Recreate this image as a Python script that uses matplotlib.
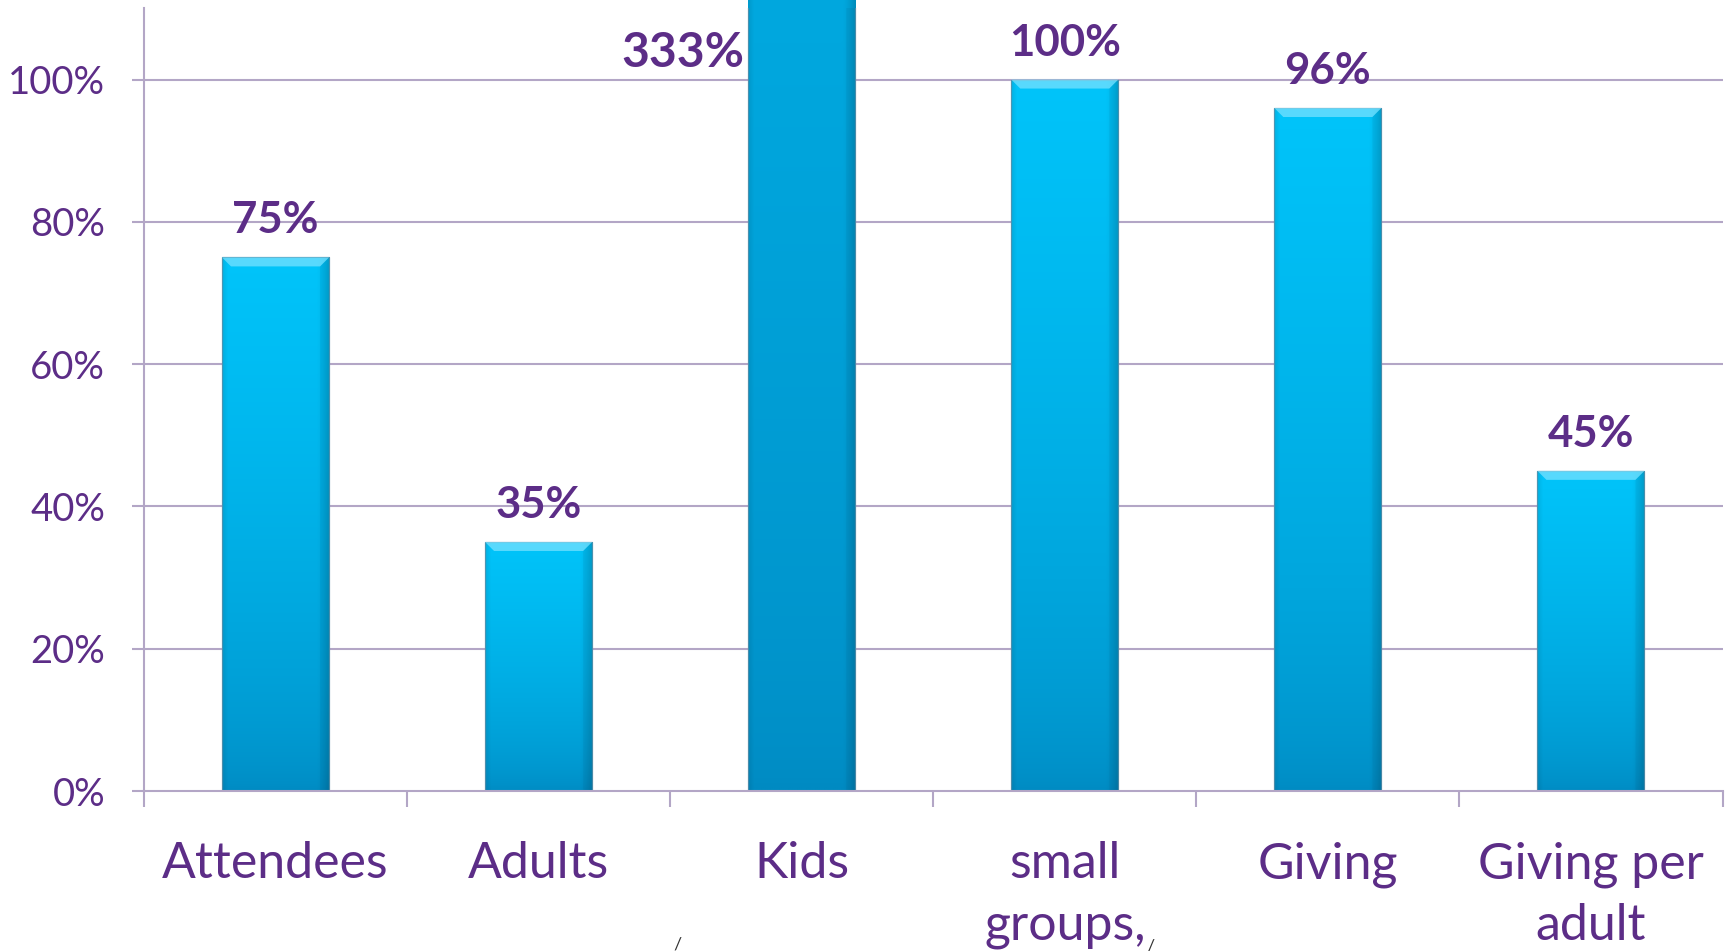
import matplotlib
matplotlib.use("Agg")
import matplotlib.pyplot as plt
import numpy as np
from matplotlib.patches import Rectangle, Polygon
from matplotlib.colors import to_rgb

# ---- data ----
categories = ["Attendees", "Adults", "Kids", "small\ngroups,", "Giving", "Giving per\nadult"]
values = [75, 35, 333, 100, 96, 45]
value_labels = ["75%", "35%", "333%", "100%", "96%", "45%"]
yticks = [0, 20, 40, 60, 80, 100]
ytick_labels = ["0%", "20%", "40%", "60%", "80%", "100%"]

PURPLE = "#5C2D87"
GRID = "#B3A6C6"
C_BOT = np.array(to_rgb("#008AC2"))
C_TOP = np.array(to_rgb("#00C4FA"))

plt.rcParams["font.family"] = ["Lato", "DejaVu Sans"]

W, H = 1729, 951
fig = plt.figure(figsize=(W / 100, H / 100), dpi=100)
ax = fig.add_axes([144 / W, (H - 791) / H, (1722.5 - 144) / W, (791 - 8.4) / H])
ymax = 110
ax.set_ylim(0, ymax)
ax.set_xlim(-0.5, len(categories) - 0.5)

# grid
for t in yticks[1:]:
    ax.axhline(t, color=GRID, lw=1.5, zorder=1)

bw = 0.407
px_x = (len(categories)) / (1722.5 - 144)   # data units per px in x
px_y = ymax / (791 - 8.4)                    # data units per px in y

for i, v in enumerate(values):
    x0 = i - bw / 2
    x1 = i + bw / 2
    ny, nx = 300, 60
    fy = np.linspace(0, 1, ny)[:, None] ** 0.6
    fx = np.linspace(0, 1, nx)[None, :]
    base = C_BOT[None, None, :] + (C_TOP - C_BOT)[None, None, :] * fy[..., None]
    shade = 1 - 0.16 * np.clip((fx - 0.88) / 0.12, 0, 1) ** 1.5 - 0.08 * np.clip((0.05 - fx) / 0.05, 0, 1)
    img = np.clip(base * shade[..., None], 0, 1)
    rect = Rectangle((x0, 0), bw, v, facecolor="none", edgecolor="#5E8FA8", lw=0.9, zorder=3, alpha=0.8)
    ax.add_patch(rect)
    im = ax.imshow(img, extent=(x0, x1, 0, v), origin="lower", aspect="auto", zorder=2,
                   interpolation="bilinear")
    im.set_clip_path(rect)
    d = 9 * px_x
    b = 9 * px_y
    bev = Polygon([(x0, v), (x1, v), (x1 - d, v - b), (x0 + d, v - b)], closed=True,
                  facecolor="#7FE3FF", edgecolor="none", alpha=0.7, zorder=3)
    ax.add_patch(bev)
    ax.add_patch(Polygon([(x1, v), (x1 - d, v - b), (x1 - d, 0), (x1, 0)], closed=True,
                         facecolor="#005A85", edgecolor="none", alpha=0.10, zorder=3))

# data labels
for i, (v, lab) in enumerate(zip(values, value_labels)):
    if v <= ymax:
        ax.annotate(lab, xy=(i, v), xytext=(0, 24 * 0.72), textcoords="offset points",
                    ha="center", va="baseline", fontsize=31.5, fontweight="bold", color=PURPLE,
                    zorder=5)
    else:
        ax.annotate(lab, xy=(i - bw / 2, ymax), xytext=(-4 * 0.72, -(67 - 8.4) * 0.72),
                    textcoords="offset points", ha="right", va="baseline", fontsize=34.5,
                    fontweight="bold", color=PURPLE, zorder=5, annotation_clip=False)

for s in ["top", "right"]:
    ax.spines[s].set_visible(False)
for s in ["left", "bottom"]:
    ax.spines[s].set_color(GRID)
    ax.spines[s].set_linewidth(1.5)
    ax.spines[s].set_zorder(4)

ax.set_yticks(yticks)
ax.set_yticklabels(ytick_labels)
ax.tick_params(axis="y", length=12.5 * 0.72, width=1.5, color=GRID, pad=19,
               labelsize=27.5, labelcolor=PURPLE)

ax.set_xticks(range(len(categories)))
ax.set_xticklabels(categories, linespacing=1.43)
ax.set_xticks(np.arange(-0.5, len(categories)), minor=True)
ax.tick_params(axis="x", which="major", length=0, pad=24.5 + 16 * 0.72, labelsize=36,
               labelcolor=PURPLE)
ax.tick_params(axis="x", which="minor", length=16 * 0.72, width=1.5, color=GRID)

fig.text(677 / W, 1 - 944 / H, "/", fontsize=13, color="#333333", ha="center", va="center")
fig.text(1150 / W, 1 - 946 / H, "/", fontsize=13, color="#333333", ha="center", va="center")

fig.savefig("out.png", dpi=100)
